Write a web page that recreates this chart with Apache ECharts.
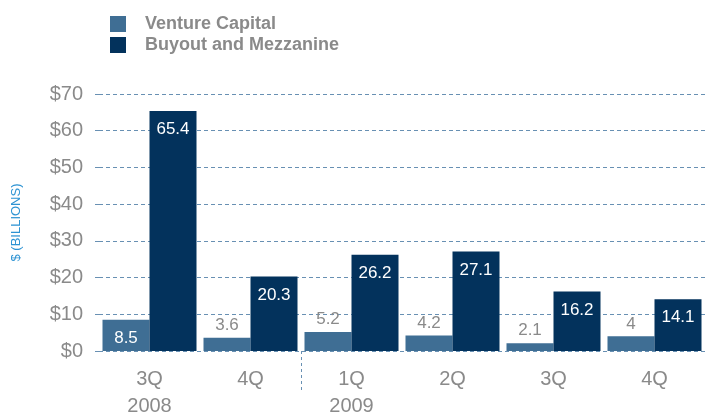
<!DOCTYPE html>
<html><head><meta charset="utf-8">
<script src="https://cdn.jsdelivr.net/npm/echarts@6/dist/echarts.min.js"></script>
<style>html,body{margin:0;padding:0;background:#fff}#c{width:708px;height:413px}</style>
</head><body><div id="c"></div>
<script>
var categories = ['3Q\n2008', '4Q', '1Q\n2009', '2Q', '3Q', '4Q'];
var ventureCapital = [8.5, 3.6, 5.2, 4.2, 2.1, 4];
var buyoutMezzanine = [65.4, 20.3, 26.2, 27.1, 16.2, 14.1];
var yTicks = [0, 10, 20, 30, 40, 50, 60, 70];
var yearBoundary = [2]; // divider drawn before category index 2 (start of 2009)

var VC_COLOR = '#3f6e94', BO_COLOR = '#03325c', GRAY = '#8a8a8a', GRID = '#6890b3';
var FONT = 'Liberation Sans, Arial, sans-serif';

var vcData = ventureCapital.map(function (v) {
  var inside = v > 6;
  return {
    value: v,
    label: inside ? { position: 'insideTop', color: '#fff', distance: 10 }
                  : { position: 'top', color: GRAY, distance: 4 }
  };
});

var chart = echarts.init(document.getElementById('c'));
chart.setOption({
  animation: false,
  textStyle: { fontFamily: FONT },
  legend: {
    orient: 'vertical', left: 105, top: 10,
    itemWidth: 16, itemHeight: 16, itemGap: 3,
    icon: 'rect',
    textStyle: { color: GRAY, fontSize: 18, fontWeight: 'bold', fontFamily: FONT, padding: [0, 0, 0, 14] },
    data: ['Venture Capital', 'Buyout and Mezzanine']
  },
  grid: { left: 99, right: 3, top: 94, bottom: 62, containLabel: false, outerBoundsMode: 'none' },
  xAxis: [{
    type: 'category', data: categories,
    axisLine: { show: false },
    axisTick: { show: false },
    axisLabel: { color: GRAY, fontSize: 20, lineHeight: 27, margin: 15, interval: 0 }
  }, {
    type: 'value', min: 0, max: categories.length, position: 'bottom',
    axisLine: { show: false },
    splitLine: { show: false },
    axisLabel: { show: false },
    axisTick: {
      show: true, length: 40, customValues: yearBoundary,
      lineStyle: { color: GRID, type: [3, 3], width: 1 }
    }
  }],
  yAxis: {
    type: 'value', min: 0, max: 70, interval: 10,
    name: '$ (BILLIONS)', nameLocation: 'middle', nameGap: 76, nameRotate: 90,
    nameTextStyle: { color: '#2d93d3', fontSize: 13 },
    axisLine: { show: false },
    axisTick: { show: true, length: 7, lineStyle: { color: GRID, type: [4, 3] } },
    splitLine: { show: true, lineStyle: { color: GRID, type: [4, 3], width: 1 } },
    axisLabel: {
      color: GRAY, fontSize: 20, margin: 16,
      formatter: function (v) { return yTicks.indexOf(v) >= 0 ? '$' + v : ''; }
    }
  },
  series: [
    {
      name: 'Venture Capital', type: 'bar', data: vcData,
      barWidth: 47, barGap: '0%', itemStyle: { color: VC_COLOR },
      label: { show: true, fontSize: 17 }, z: 3
    },
    {
      name: 'Buyout and Mezzanine', type: 'bar', data: buyoutMezzanine,
      barWidth: 47, itemStyle: { color: BO_COLOR },
      label: { show: true, position: 'insideTop', color: '#fff', fontSize: 17, distance: 10 }, z: 3
    }
  ]
});
</script></body></html>
